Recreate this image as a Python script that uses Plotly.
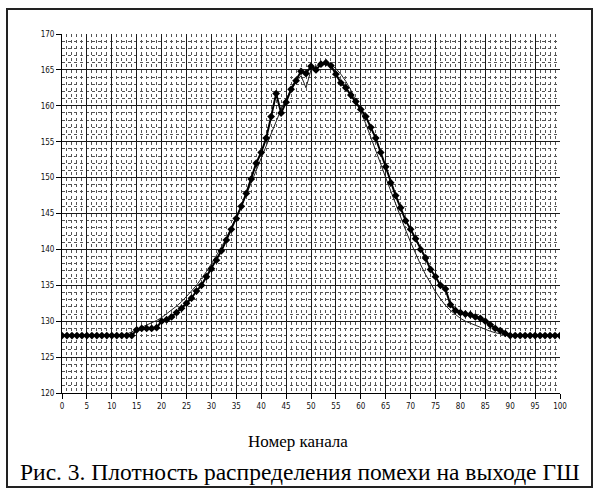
import plotly.graph_objects as go

channels = list(range(0, 101))

measured = [
    128, 128, 128, 128, 128, 128, 128, 128, 128, 128,
    128, 128, 128, 128, 128, 128.8, 129, 129, 129, 129.1,
    130, 130.2, 130.6, 131.2, 131.8, 132.5, 133.2, 134.2, 135, 136.2,
    137.3, 138.5, 139.8, 141.3, 142.8, 144.3, 146, 147.8, 149.8, 152,
    153.5, 155.5, 158.5, 161.7, 159, 160.5, 162.3, 163.5, 164.8, 164.5,
    165.5, 165, 165.8, 166, 165.6, 164.4, 163.2, 162.5, 161.5, 160.6,
    159.5, 158.5, 157, 155.5, 153.5, 151.5, 149.3, 147.5, 145.8, 144,
    142.8, 141.5, 140, 138.8, 137.2, 136.2, 135, 134.5, 132.3, 131.5,
    131.2, 131, 130.9, 130.6, 130.4, 130, 129.5, 129, 128.7, 128.3,
    128, 128, 128, 128, 128, 128, 128, 128, 128, 128,
    128,
]

theory = [
    128, 128, 128, 128, 128, 128, 128, 128, 128, 128,
    128, 128, 128, 128.2, 128.5, 128.8, 129.1, 129.4, 129.7, 130.1,
    130.5, 131, 131.5, 132.1, 132.7, 133.4, 134.2, 135, 135.9, 136.9,
    138, 139.1, 140.3, 141.6, 143, 144.4, 146, 147.6, 149.3, 151,
    152.8, 154.5, 156.3, 158, 159.5, 161, 162.2, 163.3, 164.2, 162.5,
    165, 165.5, 165.8, 165.9, 165.7, 165.2, 164.4, 163.4, 162.2, 160.8,
    159.2, 157.5, 155.7, 153.8, 151.9, 150, 148.1, 146.2, 144.4, 142.7,
    141, 139.4, 137.9, 136.5, 135.2, 134.1, 133.1, 132.2, 131.5, 130.9,
    130.4, 130, 129.7, 129.4, 129.1, 128.9, 128.6, 128.4, 128.2, 128.1,
    128, 128, 128, 128, 128, 128, 128, 128, 128, 128,
    128,
]

x_ticks = list(range(0, 101, 5))
y_ticks = list(range(120, 171, 5))

axis_title = "Номер канала"
caption = "Рис. 3. Плотность распределения помехи на выходе ГШ"

fig = go.Figure()
fig.add_trace(go.Scatter(
    x=channels, y=theory, mode="lines",
    line=dict(color="#222222", width=1),
    showlegend=False, hoverinfo="skip",
))
fig.add_trace(go.Scatter(
    x=channels, y=measured, mode="lines+markers",
    line=dict(color="#000000", width=2),
    marker=dict(symbol="diamond", size=6, color="#000000"),
    showlegend=False,
))

tick_font = dict(family="Liberation Sans Narrow, DejaVu Sans Condensed, Arial Narrow, sans-serif",
                 size=8, color="#111111")

fig.update_xaxes(
    range=[0, 100], tickvals=x_ticks, ticktext=[str(v) for v in x_ticks],
    showgrid=True, gridcolor="#1a1a1a", gridwidth=1,
    minor=dict(dtick=1, showgrid=True, gridcolor="#555555", griddash="dot", gridwidth=1),
    ticks="outside", ticklen=5, tickcolor="#000000",
    showline=True, linecolor="#000000", linewidth=1,
    zeroline=False, tickfont=tick_font, fixedrange=True,
)
fig.update_yaxes(
    range=[120, 170], tickvals=y_ticks, ticktext=[str(v) for v in y_ticks],
    showgrid=True, gridcolor="#1a1a1a", gridwidth=1,
    minor=dict(dtick=1, showgrid=True, gridcolor="#555555", griddash="dot", gridwidth=1),
    ticks="outside", ticklen=5, tickcolor="#000000",
    showline=True, linecolor="#000000", linewidth=1,
    zeroline=False, tickfont=tick_font, fixedrange=True,
)

# plot area: x 62..560 px, y 34..393 px
L, R, T, B = 62, 560, 34, 393
W, H = R - L, B - T

def px(xp):
    return (xp - L) / W

def py(yp):
    return (B - yp) / H

fig.add_shape(type="rect", xref="paper", yref="paper",
              x0=px(7), x1=px(592), y0=py(487), y1=py(9),
              line=dict(color="#222222", width=2), fillcolor="rgba(0,0,0,0)")

serif = "Liberation Serif, Times New Roman, serif"
fig.add_annotation(text=axis_title, xref="paper", yref="paper",
                   x=px(298), y=py(441), showarrow=False,
                   xanchor="center", yanchor="middle",
                   font=dict(family=serif, size=17, color="#000000"))
fig.add_annotation(text=caption, xref="paper", yref="paper",
                   x=px(300), y=py(472), showarrow=False,
                   xanchor="center", yanchor="middle",
                   font=dict(family=serif, size=23.5, color="#000000"))

fig.update_layout(
    width=600, height=493,
    margin=dict(l=L, r=600 - R, t=T, b=493 - B),
    paper_bgcolor="#ffffff", plot_bgcolor="#ffffff",
    showlegend=False,
)

fig.write_html("out.html", config={"displayModeBar": False},
               post_script="document.body.style.margin='0';document.body.style.overflow='hidden';")
